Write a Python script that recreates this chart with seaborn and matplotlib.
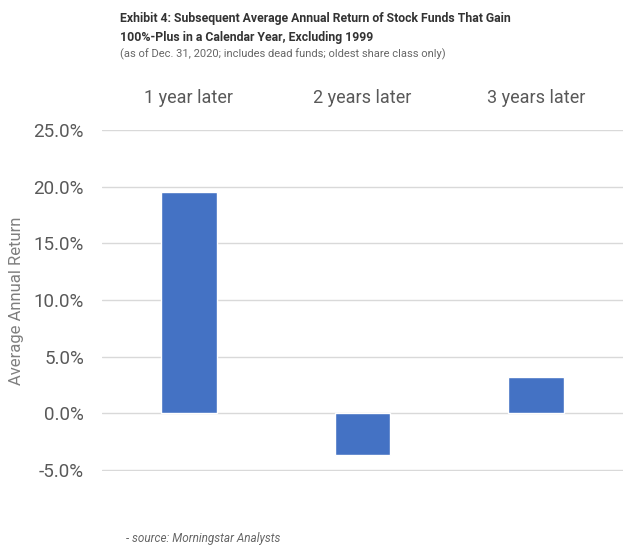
import matplotlib
matplotlib.use("Agg")
import matplotlib.pyplot as plt
import matplotlib.ticker as mtick
import pandas as pd
import seaborn as sns

periods = ["1 year later", "2 years later", "3 years later"]
avg_return = [19.5, -3.7, 3.2]
yticks = [-5, 0, 5, 10, 15, 20, 25]

sns.set_style("white")
plt.rcParams["font.family"] = ["Roboto", "DejaVu Sans"]

df = pd.DataFrame({"period": periods, "ret": avg_return})

fig = plt.figure(figsize=(6.3, 5.54), dpi=100)
ax = fig.add_axes([0.162, 0.150, 0.827, 0.615])
sns.barplot(data=df, x="period", y="ret", color="#4472C4", width=0.32,
            saturation=1, ax=ax)

ax.set_xlim(-0.5, 2.5)
ax.set_ylim(-5.1, 25)
ax.set_yticks(yticks)
ax.yaxis.set_major_formatter(mtick.FuncFormatter(lambda v, p: f"{v:.1f}%"))
ax.grid(axis="y", color="#d9d9d9", linewidth=1)
ax.set_axisbelow(True)
for s in ax.spines.values():
    s.set_visible(False)
ax.xaxis.tick_top()
ax.tick_params(axis="x", length=0, pad=17, labelsize=13, labelcolor="#595959")
ax.tick_params(axis="y", length=0, pad=13, labelsize=13.5, labelcolor="#595959")
ax.set_xlabel("")
ax.set_ylabel("Average Annual Return", fontsize=12, color="#7f7f7f", labelpad=7)

fig.text(0.19, 0.978, "Exhibit 4: Subsequent Average Annual Return of Stock Funds That Gain\n"
         "100%-Plus in a Calendar Year, Excluding 1999",
         fontsize=8.8, fontweight="bold", color="#333333", va="top", linespacing=1.6)
fig.text(0.19, 0.913, "(as of Dec. 31, 2020; includes dead funds; oldest share class only)",
         fontsize=8.0, color="#666666", va="top")
fig.text(0.2, 0.022, "- source: Morningstar Analysts", fontsize=8.5, style="italic",
         color="#666666")

fig.savefig("out.png", dpi=100)
